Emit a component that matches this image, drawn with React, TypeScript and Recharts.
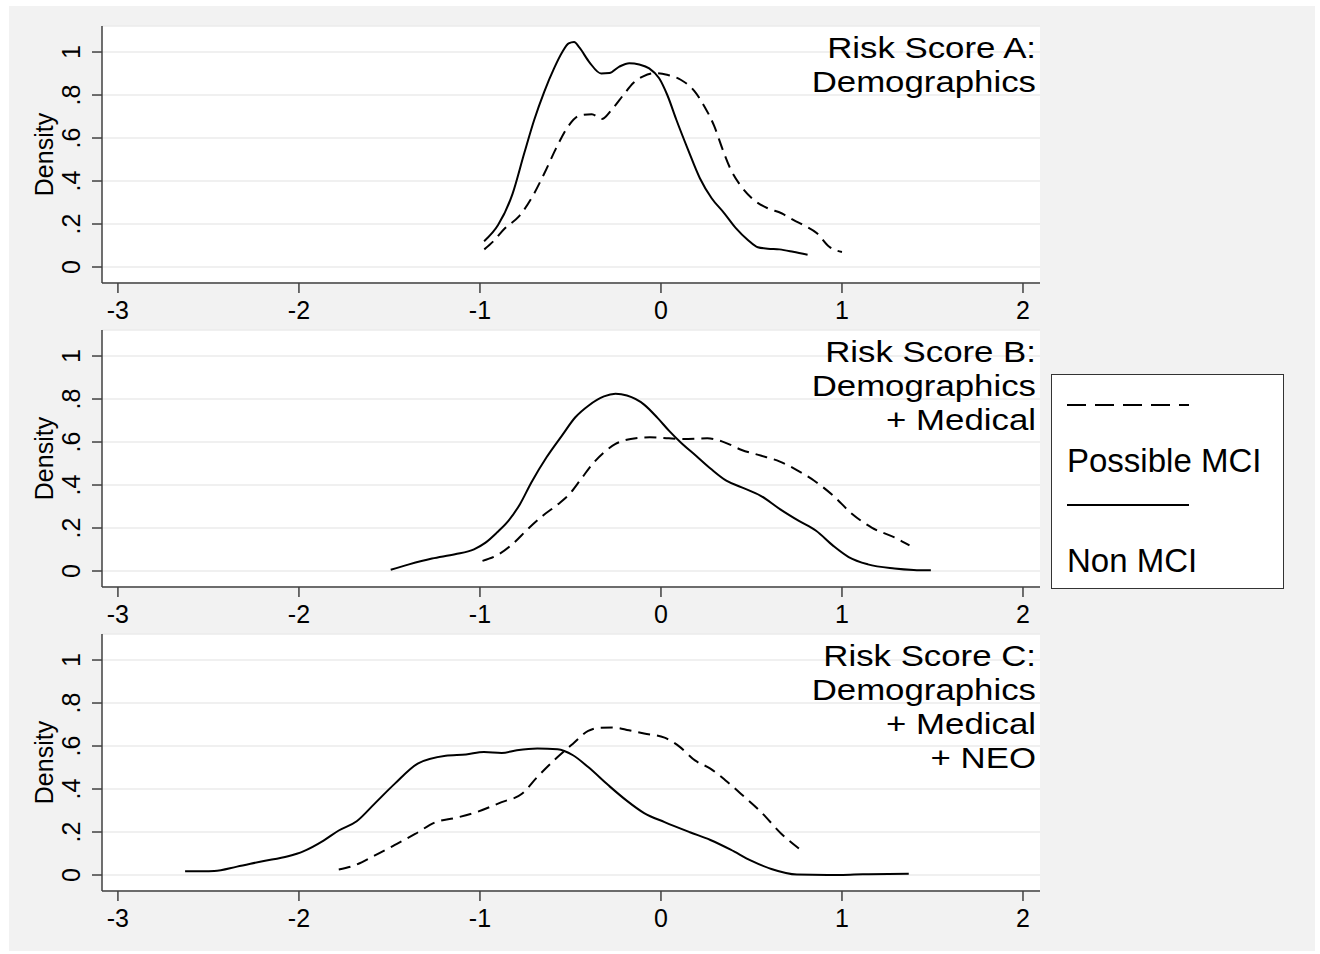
import { LineChart, Line, XAxis, YAxis, CartesianGrid, Legend } from "recharts";

// x ticks and y ticks shared by the three panels
const xTicks = [-3, -2, -1, 0, 1, 2];
const yTicks = [0, 0.2, 0.4, 0.6, 0.8, 1];

// Risk Score A
const aNonX = [-0.977, -0.9, -0.82, -0.755, -0.7, -0.645, -0.59, -0.545, -0.51, -0.48, -0.45, -0.395, -0.33, -0.285, -0.23, -0.175, -0.12, -0.065, -0.01, 0.035, 0.085, 0.15, 0.215, 0.28, 0.35, 0.415, 0.48, 0.535, 0.59, 0.655, 0.73, 0.81];
const aNonY = [0.12, 0.195, 0.34, 0.53, 0.685, 0.815, 0.925, 1.0, 1.04, 1.047, 1.02, 0.952, 0.9, 0.902, 0.932, 0.948, 0.942, 0.924, 0.878, 0.8, 0.685, 0.545, 0.413, 0.32, 0.25, 0.18, 0.126, 0.092, 0.085, 0.082, 0.071, 0.057];
const aMciX = [-0.976, -0.928, -0.862, -0.786, -0.71, -0.644, -0.579, -0.513, -0.448, -0.382, -0.328, -0.273, -0.207, -0.153, -0.098, -0.033, 0.033, 0.109, 0.186, 0.24, 0.295, 0.338, 0.382, 0.437, 0.513, 0.59, 0.666, 0.731, 0.797, 0.862, 0.928, 1.0];
const aMciY = [0.082, 0.118, 0.18, 0.234, 0.328, 0.436, 0.553, 0.654, 0.705, 0.711, 0.688, 0.731, 0.801, 0.856, 0.887, 0.902, 0.894, 0.871, 0.817, 0.747, 0.654, 0.553, 0.46, 0.382, 0.312, 0.273, 0.25, 0.219, 0.191, 0.157, 0.095, 0.07];

// Risk Score B
const bNonX = [-1.493, -1.392, -1.265, -1.138, -1.033, -0.969, -0.906, -0.843, -0.779, -0.716, -0.632, -0.547, -0.473, -0.399, -0.315, -0.251, -0.188, -0.093, -0.019, 0.044, 0.108, 0.192, 0.277, 0.361, 0.446, 0.551, 0.657, 0.762, 0.857, 0.952, 1.037, 1.143, 1.29, 1.396, 1.491];
const bNonY = [0.006, 0.031, 0.058, 0.078, 0.101, 0.132, 0.179, 0.233, 0.311, 0.412, 0.529, 0.63, 0.715, 0.77, 0.812, 0.824, 0.816, 0.774, 0.712, 0.653, 0.599, 0.537, 0.474, 0.42, 0.389, 0.35, 0.288, 0.233, 0.187, 0.117, 0.065, 0.031, 0.012, 0.005, 0.003];
const bMciX = [-0.986, -0.906, -0.822, -0.737, -0.653, -0.568, -0.505, -0.441, -0.378, -0.315, -0.251, -0.167, -0.061, 0.044, 0.15, 0.256, 0.34, 0.446, 0.551, 0.657, 0.741, 0.847, 0.952, 1.058, 1.164, 1.29, 1.373];
const bMciY = [0.047, 0.073, 0.124, 0.194, 0.257, 0.311, 0.358, 0.428, 0.498, 0.552, 0.591, 0.614, 0.622, 0.617, 0.614, 0.617, 0.602, 0.563, 0.537, 0.509, 0.474, 0.42, 0.35, 0.264, 0.202, 0.156, 0.119];

// Risk Score C
const cNonX = [-2.629, -2.468, -2.342, -2.201, -2.06, -1.976, -1.864, -1.78, -1.681, -1.583, -1.47, -1.344, -1.189, -1.077, -0.978, -0.88, -0.796, -0.683, -0.571, -0.486, -0.402, -0.29, -0.191, -0.093, 0.02, 0.16, 0.273, 0.385, 0.498, 0.61, 0.751, 0.92, 1.116, 1.369];
const cNonY = [0.017, 0.019, 0.039, 0.064, 0.087, 0.11, 0.16, 0.207, 0.25, 0.331, 0.425, 0.518, 0.555, 0.561, 0.572, 0.568, 0.58, 0.588, 0.585, 0.557, 0.502, 0.417, 0.347, 0.288, 0.246, 0.199, 0.163, 0.118, 0.067, 0.028, 0.002, 0.0, 0.003, 0.006];
const cMciX = [-1.78, -1.695, -1.583, -1.47, -1.358, -1.245, -1.133, -1.021, -0.88, -0.768, -0.683, -0.571, -0.486, -0.402, -0.346, -0.261, -0.177, -0.093, 0.02, 0.104, 0.188, 0.273, 0.357, 0.441, 0.554, 0.666, 0.782];
const cMciY = [0.026, 0.044, 0.09, 0.14, 0.191, 0.246, 0.266, 0.292, 0.339, 0.378, 0.456, 0.549, 0.611, 0.67, 0.684, 0.686, 0.673, 0.658, 0.639, 0.596, 0.533, 0.495, 0.44, 0.378, 0.292, 0.191, 0.11];

const titleA = ["Risk Score A:", "Demographics"];
const titleB = ["Risk Score B:", "Demographics", "+ Medical"];
const titleC = ["Risk Score C:", "Demographics", "+ Medical", "+ NEO"];

const FONT = "'Liberation Sans', Arial, Helvetica, sans-serif";
const AXIS = "#404040";

const toPts = (xs: number[], ys: number[]) => xs.map((x, i) => ({ x, y: ys[i] }));

const fmtY = (v: number) => (v === 0 ? "0" : v === 1 ? "1" : String(v).replace("0.", "."));

const YTick = (props: any) => {
  const { x, y, payload } = props;
  const cx = x - 19;
  return (
    <text
      x={cx}
      y={y}
      transform={`rotate(-90, ${cx}, ${y})`}
      textAnchor="middle"
      dominantBaseline="central"
      fontSize={25}
      fontFamily={FONT}
      fill="#000"
    >
      {fmtY(payload.value)}
    </text>
  );
};

const LegendBox = () => (
  <div
    style={{
      width: 233,
      height: 215,
      boxSizing: "border-box",
      border: "1.5px solid #333",
      background: "#fff",
    }}
  >
    <svg width={230} height={212} style={{ display: "block" }}>
      <line x1={15} y1={30} x2={137} y2={30} stroke="#000" strokeWidth={2} strokeDasharray="19 9" />
      <text x={15} y={97} fontSize={33} fontFamily={FONT} fill="#000">Possible MCI</text>
      <line x1={15} y1={130} x2={137} y2={130} stroke="#000" strokeWidth={2} />
      <text x={15} y={197} fontSize={33} fontFamily={FONT} fill="#000">Non MCI</text>
    </svg>
  </div>
);

function Panel({ top, non, mci, title, legend }: { top: number; non: any[]; mci: any[]; title: string[]; legend?: boolean }) {
  return (
    <div style={{ position: "absolute", left: 0, top }}>
      <LineChart width={1320} height={330} margin={{ top: 26, right: 280, bottom: 0, left: 0 }}>
        <CartesianGrid horizontal vertical={false} fill="#fff" stroke="#ebebeb" strokeWidth={1.5} />
        <XAxis
          type="number"
          dataKey="x"
          domain={[-3.088, 2.094]}
          ticks={xTicks}
          interval={0}
          allowDataOverflow
          height={47}
          tickSize={10}
          tickMargin={8}
          stroke={AXIS}
          strokeWidth={1.5}
          tick={{ fill: "#000", fontSize: 25, fontFamily: FONT }}
        />
        <YAxis
          type="number"
          domain={[-0.0744, 1.121]}
          ticks={yTicks}
          interval={0}
          allowDataOverflow
          width={102}
          tickSize={10}
          stroke={AXIS}
          strokeWidth={1.5}
          tick={<YTick />}
          label={{
            value: "Density",
            angle: -90,
            position: "insideLeft",
            offset: 44,
            style: { textAnchor: "middle", fontSize: 25, fontFamily: FONT, fill: "#000" },
          }}
        />
        <Line data={mci} dataKey="y" type="monotone" stroke="#000" strokeWidth={2} strokeDasharray="12 7" dot={false} isAnimationActive={false} />
        <Line data={non} dataKey="y" type="monotone" stroke="#000" strokeWidth={2} dot={false} isAnimationActive={false} />
        {legend && (
          <Legend
            layout="horizontal"
            verticalAlign="middle"
            align="center"
            content={<LegendBox />}
            wrapperStyle={{ position: "absolute", left: 1051, top: 70, width: 233, height: 215 }}
          />
        )}
      </LineChart>
      <svg width={1320} height={330} style={{ position: "absolute", left: 0, top: 0, pointerEvents: "none" }}>
        <g transform="translate(1036,0) scale(1.18,1)">
          {title.map((t, i) => (
            <text key={i} x={0} y={58 + i * 34} textAnchor="end" fontSize={29.5} fontFamily={FONT} fill="#000">
              {t}
            </text>
          ))}
        </g>
      </svg>
    </div>
  );
}

export default function App() {
  return (
    <div style={{ position: "absolute", left: 0, top: 0, width: 1320, height: 954, background: "#fff" }}>
      <div style={{ position: "absolute", left: 9, top: 6, width: 1306, height: 945, background: "#f2f2f2" }} />
      <Panel top={0} non={toPts(aNonX, aNonY)} mci={toPts(aMciX, aMciY)} title={titleA} />
      <Panel top={304} non={toPts(bNonX, bNonY)} mci={toPts(bMciX, bMciY)} title={titleB} legend />
      <Panel top={608} non={toPts(cNonX, cNonY)} mci={toPts(cMciX, cMciY)} title={titleC} />
    </div>
  );
}
